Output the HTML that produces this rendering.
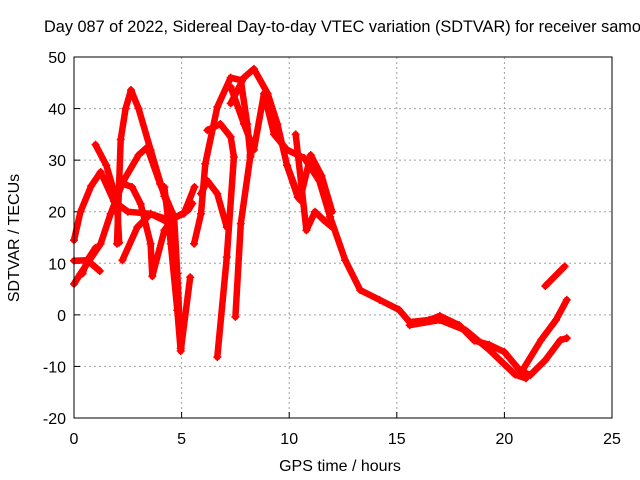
<!DOCTYPE html>
<html><head><meta charset="utf-8"><style>
body{margin:0;background:#fff;width:640px;height:480px;overflow:hidden}
svg{display:block;font-family:"Liberation Sans",sans-serif}
</style></head><body>
<svg id="chart" width="640" height="480">
<text x="44" y="32" font-size="16.3">Day 087 of 2022, Sidereal Day-to-day VTEC variation (SDTVAR) for receiver samo</text>
<text x="340" y="471" font-size="16" text-anchor="middle">GPS time / hours</text>
<text transform="translate(19,238) rotate(-90)" font-size="16" text-anchor="middle">SDTVAR / TECUs</text>
</svg>
<script>
const xTicks=[0,5,10,15,20,25];
const yTicks=[-20,-10,0,10,20,30,40,50];
const s1t=[2.0,2.17,2.4,2.65,3.0,3.56,4.2,4.6];
const s1v=[13.8,34,40,43.6,40,32,23,18];
const s2t=[1.0,1.5,2.0,2.1];
const s2v=[33,29,22,14];
const s3t=[0,0.3,0.8,1.24,1.86,2.5,3.56,4.5,5.3,5.5];
const s3v=[14.5,20,25,27.7,22,20,19.6,18.3,20.3,21.6];
const s4t=[0,0.3,1.24,1.7,2.3,3.0,3.4,4.0,4.65,4.8,4.96];
const s4v=[6,8,13.8,19.6,26,31,32.5,25.4,19,8,-6.5];
const s5t=[2.25,2.94,3.56,4.2,5.1,5.6];
const s5v=[10.6,17,19.6,18.3,19.6,24.8];
const s6t=[2.3,2.7,3.1,3.56,3.64,4.2,4.65];
const s6v=[25.4,24.8,21.5,13.8,7.5,16.4,19];
const s7t=[4.2,4.5,4.8,4.96,5.4];
const s7v=[24.8,13.8,0.9,-7,7.3];
const s8t=[5.58,5.9,6.1,6.66,7.28,7.75,8.05,8.2];
const s8v=[13.8,19.6,29.3,40.3,46,45.5,37,30.6];
const s9t=[7.28,7.9,8.36,9.0,9.45,9.9,10.4];
const s9v=[41,46,47.7,42.9,37,29,22.8];
const s10t=[5.9,6.2,6.66,7.1];
const s10v=[23.5,26,23.5,17];
const s11t=[6.2,6.8,7.28,7.43,7.1,6.66];
const s11v=[35.8,37,34.5,30.6,11.2,-8.2];
const s12t=[8.2,7.75,7.5];
const s12v=[31,17.7,-0.4];
const s13t=[7.28,7.9,8.36,8.83,9.3,9.9,10.7,11.4,11.9];
const s13v=[44.2,37,32,42.9,35,32,30.4,26,19];
const s14t=[10.3,10.8,11.2,11.6,12.0];
const s14v=[35,16.4,20,18.4,17];
const s15t=[9.9,10.5,11.0,11.5,12.0];
const s15v=[29,22.3,31,27,20];
const s16t=[11.9,12.6,13.3,14.2,15.1,15.6,16.5,17,17.9,18.6,19.3,20,20.7,21.2,21.9,22.6,22.9];
const s16v=[19,10.6,4.8,2.9,1,-1.4,-1,-0.2,-2,-5,-5.8,-7.2,-10.7,-11.7,-8.8,-4.9,-4.5];
const s17t=[15.6,17,18.2,19.3,20.5,21];
const s17v=[-2,-1,-3,-6.8,-11.6,-12.3];
const s18t=[20.7,21.7,22.4,22.9];
const s18v=[-11.7,-4.9,-1,2.9];
const s19t=[21.9,22.8];
const s19v=[5.6,9.4];
const s20t=[0,0.62,1.2];
const s20v=[10.5,10.6,8.5];
const s21t=[0.4,0.62,1.0];
const s21v=[8,10.6,13];
const series=[[s1t,s1v],[s2t,s2v],[s3t,s3v],[s4t,s4v],[s5t,s5v],[s6t,s6v],[s7t,s7v],[s8t,s8v],[s9t,s9v],[s10t,s10v],[s11t,s11v],[s12t,s12v],[s13t,s13v],[s14t,s14v],[s15t,s15v],[s16t,s16v],[s17t,s17v],[s18t,s18v],[s19t,s19v],[s20t,s20v],[s21t,s21v]];

const L=74,R=612,T=57,B=418;
const X=t=>L+(t-0)/25*(R-L);
const Y=v=>B-(v+20)/70*(B-T);
const svg=document.getElementById('chart');
const NS='http://www.w3.org/2000/svg';
function mk(tag,a){const e=document.createElementNS(NS,tag);for(const k in a)e.setAttribute(k,a[k]);svg.appendChild(e);return e;}

xTicks.forEach(t=>{
  const x=X(t);
  if(t>0&&t<25){const g=mk('line',{x1:x,y1:T,x2:x,y2:B,stroke:'#a0a0a0','stroke-dasharray':'2,3'});
  
  }
  const tk=mk('line',{x1:x,y1:B,x2:x,y2:B-6,stroke:'#000'});
  
  
  const tx=mk('text',{x:x,y:B+26,'font-size':16,'text-anchor':'middle'});
  tx.textContent=t;
  
  
});
yTicks.forEach(v=>{
  const y=Y(v);
  if(v>-20&&v<50){const g=mk('line',{x1:L,y1:y,x2:R,y2:y,stroke:'#a0a0a0','stroke-dasharray':'2,3'});
  
  }
  const tk=mk('line',{x1:L,y1:y,x2:L+6,y2:y,stroke:'#000'});
  
  
  const tx=mk('text',{x:L-8,y:y+6,'font-size':16,'text-anchor':'end'});
  tx.textContent=v;
  
  
});
series.forEach((s,i)=>{
  const [ts,vs]=s;
  const pts=ts.map((t,j)=>X(t).toFixed(1)+','+Y(vs[j]).toFixed(1)).join(' ');
  const pl=mk('polyline',{points:pts,fill:'none',stroke:'#ff0000','stroke-width':6.5,'stroke-linejoin':'round','stroke-linecap':'round'});
  
  
  ts.forEach((t,j)=>{
    const x=X(t),y=Y(vs[j]);
    const p=mk('path',{d:`M${x-4},${y}H${x+4}M${x},${y-4}V${y+4}`,stroke:'#ff0000','stroke-width':1.5});
    
    
  });
});
const bd=mk('rect',{x:L,y:T,width:R-L,height:B-T,fill:'none',stroke:'#000','stroke-width':1});


</script>
</body></html>
